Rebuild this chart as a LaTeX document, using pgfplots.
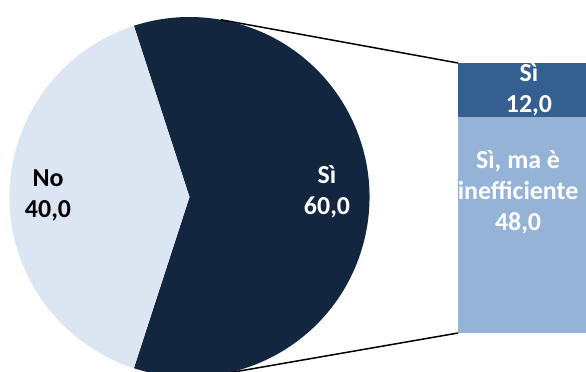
\documentclass[border=0pt]{standalone}
\usepackage{pgfplots}
\pgfplotsset{compat=1.18}
\usepackage{fontspec}
\setmainfont{Carlito}
\definecolor{cNo}{HTML}{DCE6F2}
\definecolor{cSi}{HTML}{12263F}
\definecolor{cBarTop}{HTML}{355F91}
\definecolor{cBarBot}{HTML}{95B3D7}
\newcommand\lbl{\fontsize{26}{31}\selectfont\bfseries}
% pie data (percent)
\pgfmathsetmacro\vSi{60}
\pgfmathsetmacro\vNo{40}
\pgfmathsetmacro\aA{-\vSi*3.6/2}
\pgfmathsetmacro\aB{\vSi*3.6/2}
\pgfmathsetmacro\aC{\aB+\vNo*3.6}
\begin{document}
\begin{tikzpicture}
\useasboundingbox (0,0) rectangle (586bp,372bp);
\clip (0,0) rectangle (586bp,372bp);
\begin{axis}[at={(9.5bp,-5bp)}, anchor=south west, scale only axis,
  width=360bp, height=360bp, xmin=-1, xmax=1, ymin=-1, ymax=1,
  hide axis, clip=false]
\fill[cSi] (axis cs:0,0) -- (axis cs:{cos(\aA)},{sin(\aA)}) arc[start angle=\aA, end angle=\aB, radius=180bp] -- cycle;
\fill[cNo] (axis cs:0,0) -- (axis cs:{cos(\aB)},{sin(\aB)}) arc[start angle=\aB, end angle=\aC, radius=180bp] -- cycle;
\node[black, align=center, font=\lbl] at (axis cs:-0.786,0.01) {No\\40,0};
\node[white, align=center, font=\lbl] at (axis cs:0.764,0.03) {Sì\\60,0};
\coordinate (p1) at (axis cs:{cos(80)},{sin(80)});
\coordinate (p2) at (axis cs:{cos(-80)},{sin(-80)});
\end{axis}
\begin{axis}[at={(458bp,39bp)}, anchor=south west, scale only axis,
  width=142bp, height=270bp, xmin=-0.5, xmax=0.5, ymin=0, ymax=60,
  hide axis, ybar stacked, bar width=142bp, clip=false]
\addplot[fill=cBarBot, draw=none] coordinates {(0,48)};
\addplot[fill=cBarTop, draw=none] coordinates {(0,12)};
\coordinate (lt) at (axis cs:0,54);
\coordinate (lb) at (axis cs:-0.077,31.3);
\coordinate (bt) at (rel axis cs:0,1);
\coordinate (bb) at (rel axis cs:0,0);
\end{axis}
\node[white, align=center, font=\lbl] at (lt) {Sì\\12,0};
\node[white, align=center, font=\lbl] at (lb) {Sì, ma è\\inefficiente\\48,0};
\draw[black, line width=1.5bp] (p1) -- (bt);
\draw[black, line width=1.5bp] (p2) -- (bb);
\end{tikzpicture}
\end{document}
